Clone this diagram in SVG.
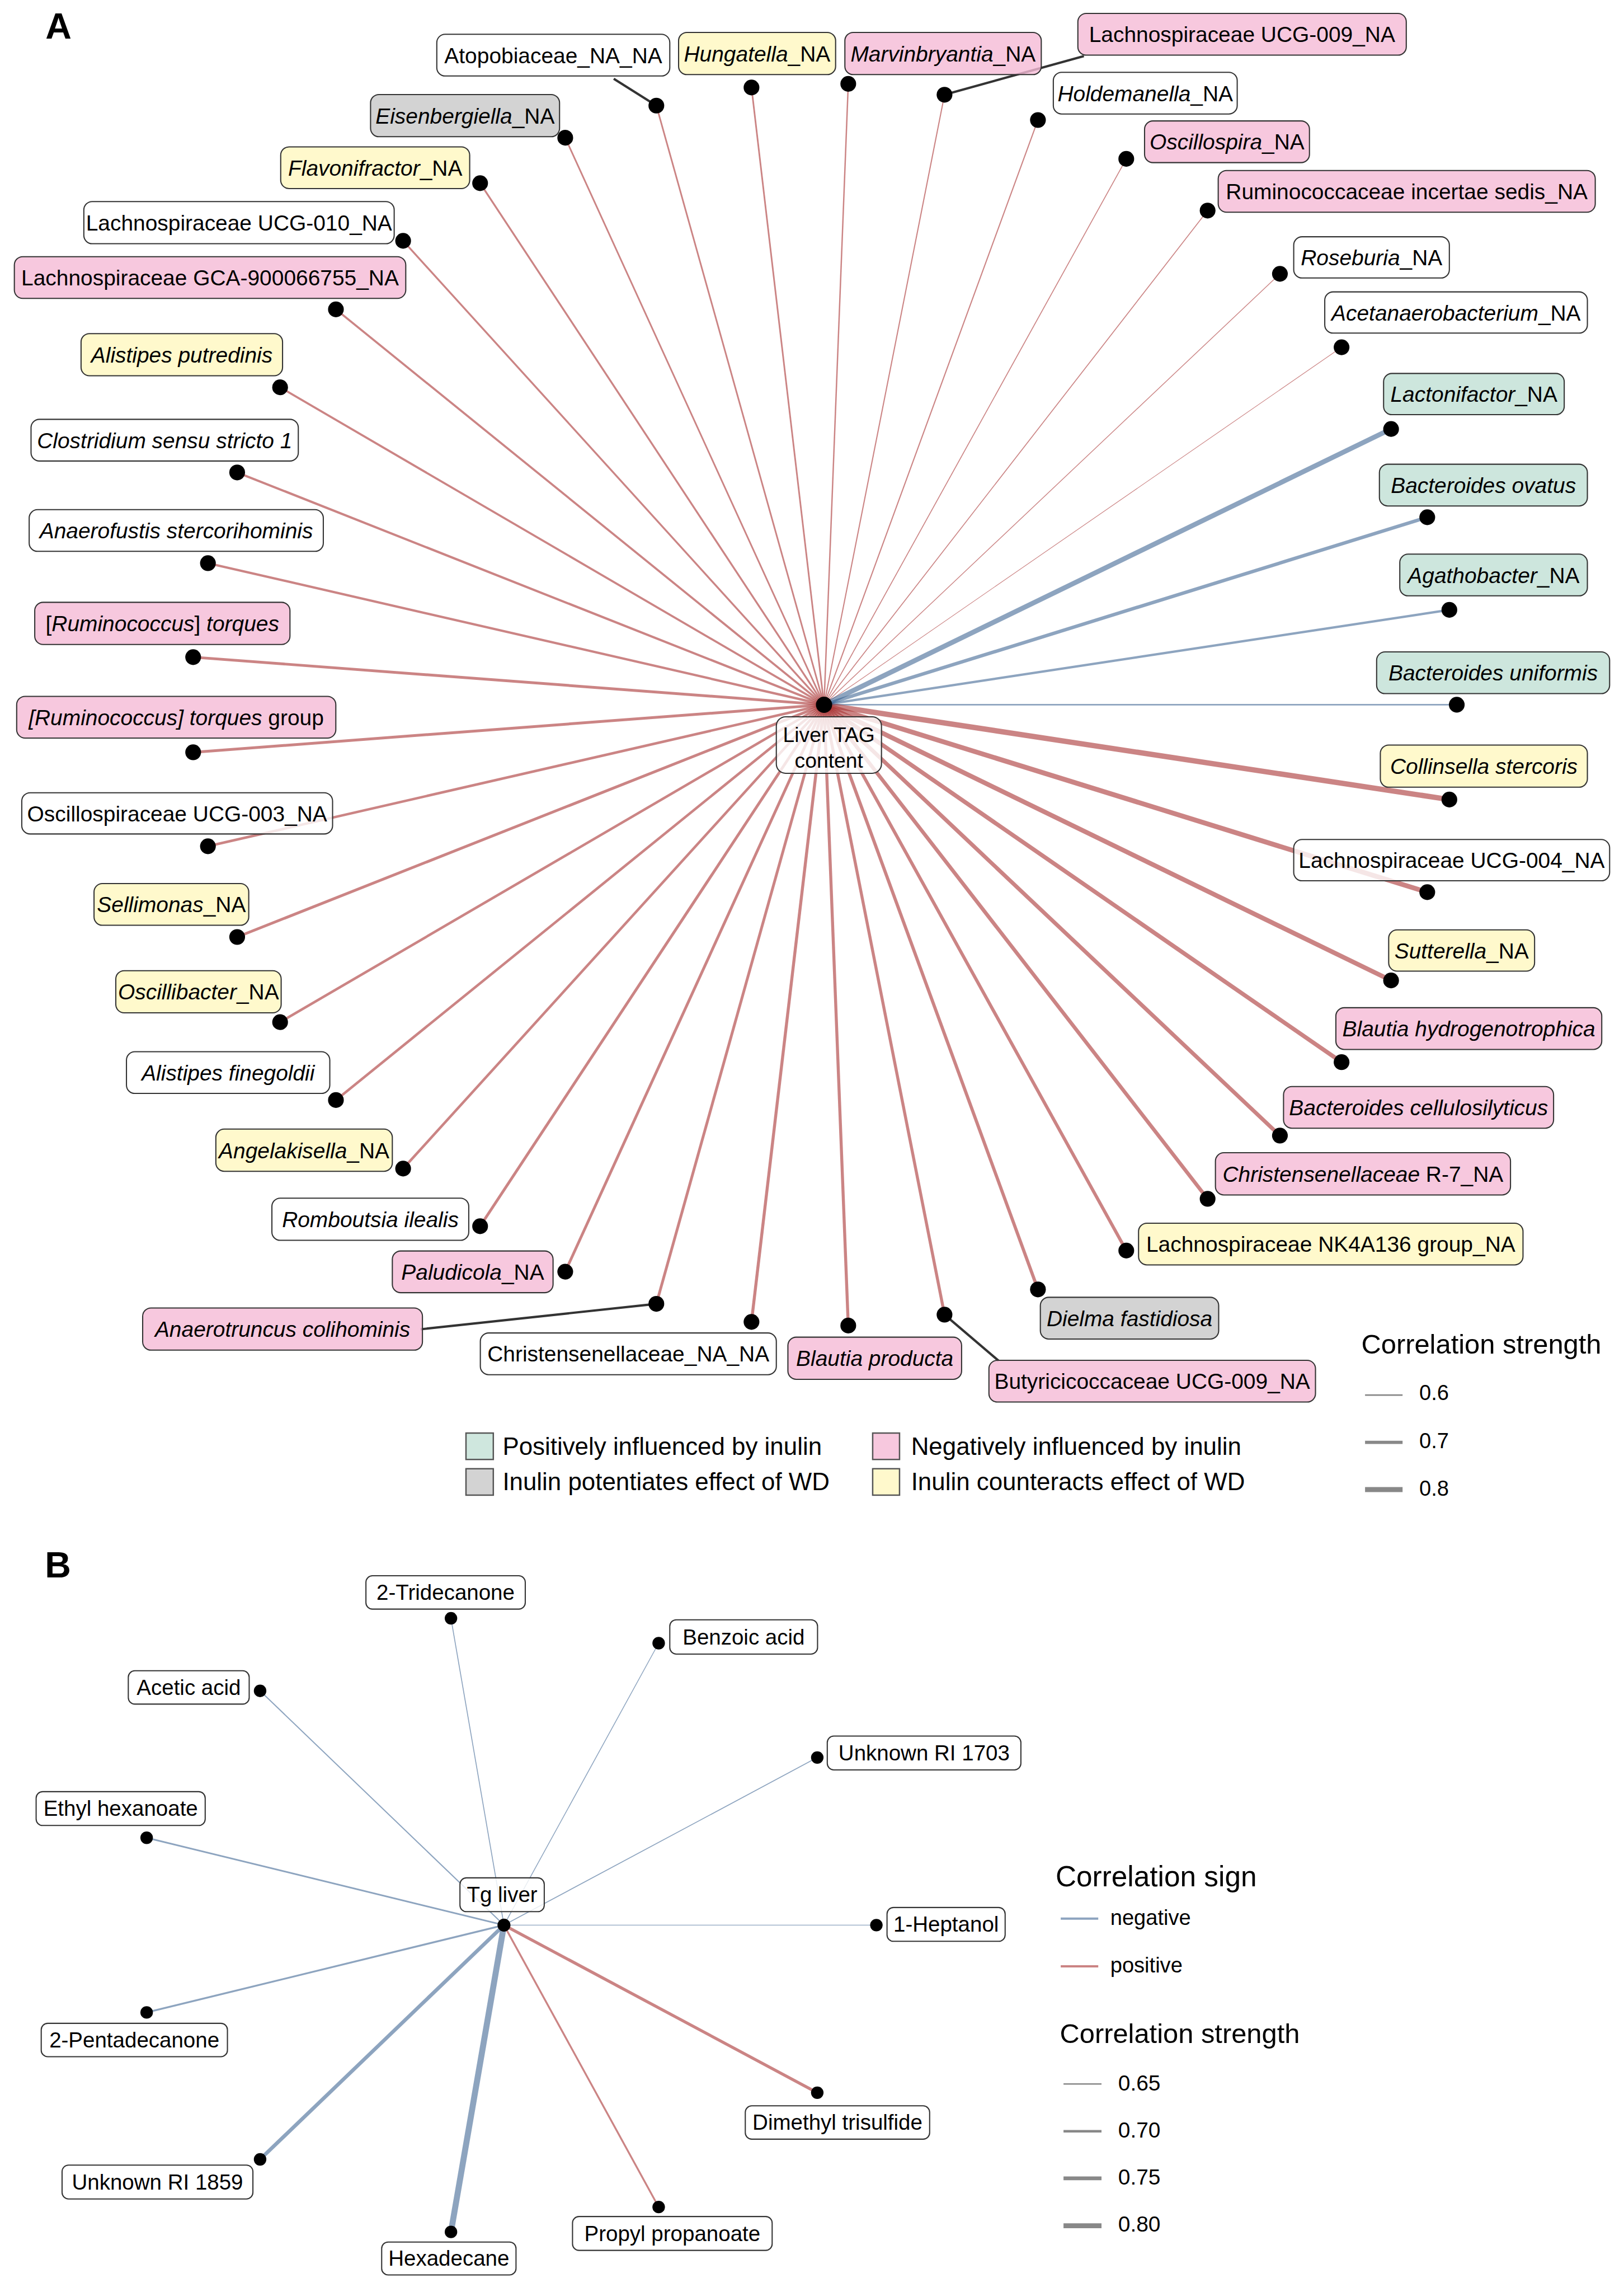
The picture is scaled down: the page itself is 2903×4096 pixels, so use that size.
<svg xmlns="http://www.w3.org/2000/svg" width="2903" height="4096" viewBox="0 0 2903 4096">
<style>
text{font-family:"Liberation Sans",Arial,Helvetica,sans-serif;fill:#000}
.t{font-size:47px;text-anchor:middle}
.tb{font-size:46.5px;text-anchor:middle}
.i{font-style:italic}
.bx{stroke:#333;stroke-width:2.5;fill-opacity:.8}
.W{fill:#fff}.P{fill:#F5BAD6}.Y{fill:#FFF7BF}.G{fill:#C0E0D4}.R{fill:#C8C8C8}
.pos{stroke:#A83232;stroke-opacity:.6;fill:none}
.neg{stroke:#2F5A8A;stroke-opacity:.55;fill:none}
.ld{stroke:#333;stroke-width:5}
.lg{stroke:#888}
.sq{stroke:#555;stroke-width:3}
.leg{font-size:53px}
.ttl{font-size:59px}
.num{font-size:46px}
.pl{font-size:78px;font-weight:bold}
</style>
<rect width="2903" height="4096" fill="#fff"/>
<g transform="scale(0.828)">
<text class="pl" x="98" y="83">A</text>
<text class="pl" x="97" y="3405">B</text>

<g id="edges-A">
<line class="neg" x1="1779" y1="1521" x2="3145" y2="1521" stroke-width="3.5"/>
<line class="pos" x1="1779" y1="1521" x2="3129.0" y2="1725.7" stroke-width="11.5"/>
<line class="pos" x1="1779" y1="1521" x2="3081.3" y2="1925.6" stroke-width="10.5"/>
<line class="pos" x1="1779" y1="1521" x2="3003.2" y2="2116.1" stroke-width="10"/>
<line class="pos" x1="1779" y1="1521" x2="2896.3" y2="2292.5" stroke-width="9"/>
<line class="pos" x1="1779" y1="1521" x2="2763.2" y2="2451.0" stroke-width="8.5"/>
<line class="pos" x1="1779" y1="1521" x2="2607.1" y2="2587.5" stroke-width="8"/>
<line class="pos" x1="1779" y1="1521" x2="2431.5" y2="2699.1" stroke-width="7"/>
<line class="pos" x1="1779" y1="1521" x2="2240.8" y2="2783.0" stroke-width="7"/>
<line class="pos" x1="1779" y1="1521" x2="2039.1" y2="2837.5" stroke-width="6.5"/>
<line class="pos" x1="1779" y1="1521" x2="1831.3" y2="2861.0" stroke-width="6.5"/>
<line class="pos" x1="1779" y1="1521" x2="1622.4" y2="2853.1" stroke-width="6.5"/>
<line class="pos" x1="1779" y1="1521" x2="1417.0" y2="2814.1" stroke-width="6"/>
<line class="pos" x1="1779" y1="1521" x2="1220.3" y2="2744.7" stroke-width="6"/>
<line class="pos" x1="1779" y1="1521" x2="1036.5" y2="2646.6" stroke-width="6"/>
<line class="pos" x1="1779" y1="1521" x2="870.3" y2="2522.2" stroke-width="5.5"/>
<line class="pos" x1="1779" y1="1521" x2="725.2" y2="2374.3" stroke-width="5.5"/>
<line class="pos" x1="1779" y1="1521" x2="604.7" y2="2206.1" stroke-width="5.5"/>
<line class="pos" x1="1779" y1="1521" x2="512.0" y2="2022.3" stroke-width="6"/>
<line class="pos" x1="1779" y1="1521" x2="448.9" y2="1826.5" stroke-width="5.5"/>
<line class="pos" x1="1779" y1="1521" x2="417.0" y2="1623.7" stroke-width="6"/>
<line class="pos" x1="1779" y1="1521" x2="417.0" y2="1418.3" stroke-width="6"/>
<line class="pos" x1="1779" y1="1521" x2="448.9" y2="1215.5" stroke-width="5"/>
<line class="pos" x1="1779" y1="1521" x2="512.0" y2="1019.7" stroke-width="5"/>
<line class="pos" x1="1779" y1="1521" x2="604.7" y2="835.9" stroke-width="4.5"/>
<line class="pos" x1="1779" y1="1521" x2="725.2" y2="667.7" stroke-width="4.5"/>
<line class="pos" x1="1779" y1="1521" x2="870.3" y2="519.8" stroke-width="4"/>
<line class="pos" x1="1779" y1="1521" x2="1036.5" y2="395.4" stroke-width="4"/>
<line class="pos" x1="1779" y1="1521" x2="1220.3" y2="297.3" stroke-width="3.5"/>
<line class="pos" x1="1779" y1="1521" x2="1417.0" y2="227.9" stroke-width="3.5"/>
<line class="pos" x1="1779" y1="1521" x2="1622.4" y2="188.9" stroke-width="3.5"/>
<line class="pos" x1="1779" y1="1521" x2="1831.3" y2="181.0" stroke-width="3"/>
<line class="pos" x1="1779" y1="1521" x2="2039.1" y2="204.5" stroke-width="2.5"/>
<line class="pos" x1="1779" y1="1521" x2="2240.8" y2="259.0" stroke-width="2.5"/>
<line class="pos" x1="1779" y1="1521" x2="2431.5" y2="342.9" stroke-width="2"/>
<line class="pos" x1="1779" y1="1521" x2="2607.1" y2="454.5" stroke-width="2"/>
<line class="pos" x1="1779" y1="1521" x2="2763.2" y2="591.0" stroke-width="1.7"/>
<line class="pos" x1="1779" y1="1521" x2="2896.3" y2="749.5" stroke-width="1.4"/>
<line class="neg" x1="1779" y1="1521" x2="3003.2" y2="925.9" stroke-width="10.5"/>
<line class="neg" x1="1779" y1="1521" x2="3081.3" y2="1116.4" stroke-width="7.5"/>
<line class="neg" x1="1779" y1="1521" x2="3129.0" y2="1316.3" stroke-width="5"/>
</g>

<g id="leaders-A">
<line class="ld" x1="1325" y1="170" x2="1417" y2="227.9"/>
<line class="ld" x1="2039.1" y1="204.5" x2="2340" y2="121"/>
<line class="ld" x1="2039.1" y1="2837.5" x2="2156" y2="2937"/>
<line class="ld" x1="908" y1="2869" x2="1417" y2="2814.1"/>
</g>

<g id="n-liver-tag"><circle cx="1779" cy="1521" r="17.5"/><rect class="bx W" x="1676" y="1547" width="227" height="122" rx="20"/><text class="t" style="font-size:45px" x="1789.5" y="1601">Liver TAG</text><text class="t" style="font-size:45px" x="1789.5" y="1657">content</text></g>

<g id="n-atopobiaceae"><circle cx="1417" cy="227.9" r="17"/><rect class="bx W" x="943" y="74" width="503" height="90" rx="18"/><text class="t" x="1194.5" y="136">Atopobiaceae_NA_NA</text></g>
<g id="n-hungatella"><circle cx="1622.4" cy="188.9" r="17"/><rect class="bx Y" x="1465" y="70" width="339" height="91" rx="18"/><text class="t" x="1634.5" y="132.5"><tspan class="i">Hungatella</tspan>_NA</text></g>
<g id="n-marvinbryantia"><circle cx="1831.3" cy="181" r="17"/><rect class="bx P" x="1824" y="70" width="424" height="91" rx="18"/><text class="t" x="2036" y="132.5"><tspan class="i">Marvinbryantia</tspan>_NA</text></g>
<g id="n-lachno-ucg009"><circle cx="2039.1" cy="204.5" r="17"/><rect class="bx P" x="2327" y="29" width="709" height="90" rx="18"/><text class="t" x="2681.5" y="91">Lachnospiraceae UCG-009_NA</text></g>
<g id="n-holdemanella"><circle cx="2240.8" cy="259" r="17"/><rect class="bx W" x="2274" y="156" width="397" height="90" rx="18"/><text class="t" x="2472.5" y="218"><tspan class="i">Holdemanella</tspan>_NA</text></g>
<g id="n-oscillospira"><circle cx="2431.5" cy="342.9" r="17"/><rect class="bx P" x="2471" y="261" width="356" height="90" rx="18"/><text class="t" x="2649" y="323"><tspan class="i">Oscillospira</tspan>_NA</text></g>
<g id="n-rumino-incertae"><circle cx="2607.1" cy="454.5" r="17"/><rect class="bx P" x="2630" y="368" width="814" height="90" rx="18"/><text class="t" x="3037" y="430">Ruminococcaceae incertae sedis_NA</text></g>
<g id="n-roseburia"><circle cx="2763.2" cy="591" r="17"/><rect class="bx W" x="2793" y="511" width="336" height="89" rx="18"/><text class="t" x="2961" y="572.5"><tspan class="i">Roseburia</tspan>_NA</text></g>
<g id="n-acetanaerobacterium"><circle cx="2896.3" cy="749.5" r="17"/><rect class="bx W" x="2860" y="630" width="567" height="89" rx="18"/><text class="t" x="3143.5" y="691.5"><tspan class="i">Acetanaerobacterium</tspan>_NA</text></g>
<g id="n-lactonifactor"><circle cx="3003.2" cy="925.9" r="17"/><rect class="bx G" x="2987" y="806" width="390" height="89" rx="18"/><text class="t" x="3182" y="867.5"><tspan class="i">Lactonifactor</tspan>_NA</text></g>
<g id="n-bacteroides-ovatus"><circle cx="3081.3" cy="1116.4" r="17"/><rect class="bx G" x="2978" y="1002" width="449" height="90" rx="18"/><text class="t i" x="3202.5" y="1064">Bacteroides ovatus</text></g>
<g id="n-agathobacter"><circle cx="3129" cy="1316.3" r="17"/><rect class="bx G" x="3022" y="1196" width="405" height="90" rx="18"/><text class="t" x="3224.5" y="1258"><tspan class="i">Agathobacter</tspan>_NA</text></g>
<g id="n-bacteroides-uniformis"><circle cx="3145" cy="1521" r="17"/><rect class="bx G" x="2972" y="1407" width="503" height="90" rx="18"/><text class="t i" x="3223.5" y="1469">Bacteroides uniformis</text></g>
<g id="n-collinsella"><circle cx="3129" cy="1725.7" r="17"/><rect class="bx Y" x="2980" y="1608" width="447" height="91" rx="18"/><text class="t i" x="3203.5" y="1670.5">Collinsella stercoris</text></g>
<g id="n-lachno-ucg004"><circle cx="3081.3" cy="1925.6" r="17"/><rect class="bx W" x="2793" y="1812" width="682" height="89" rx="18"/><text class="t" x="3134" y="1873.5">Lachnospiraceae UCG-004_NA</text></g>
<g id="n-sutterella"><circle cx="3003.2" cy="2116.1" r="17"/><rect class="bx Y" x="2998" y="2007" width="315" height="89" rx="18"/><text class="t" x="3155.5" y="2068.5"><tspan class="i">Sutterella</tspan>_NA</text></g>
<g id="n-blautia-hydro"><circle cx="2896.3" cy="2292.5" r="17"/><rect class="bx P" x="2884" y="2175" width="574" height="90" rx="18"/><text class="t i" x="3171" y="2237">Blautia hydrogenotrophica</text></g>
<g id="n-bacteroides-cellulo"><circle cx="2763.2" cy="2451" r="17"/><rect class="bx P" x="2771" y="2345" width="583" height="90" rx="18"/><text class="t i" x="3062.5" y="2407">Bacteroides cellulosilyticus</text></g>
<g id="n-christensenellaceae-r7"><circle cx="2607.1" cy="2587.5" r="17"/><rect class="bx P" x="2624" y="2488" width="637" height="91" rx="18"/><text class="t" x="2942.5" y="2550.5"><tspan class="i">Christensenellaceae</tspan> R-7_NA</text></g>
<g id="n-lachno-nk4a136"><circle cx="2431.5" cy="2699.1" r="17"/><rect class="bx Y" x="2458" y="2640" width="830" height="90" rx="18"/><text class="t" x="2873" y="2702">Lachnospiraceae NK4A136 group_NA</text></g>
<g id="n-dielma"><circle cx="2240.8" cy="2783" r="17"/><rect class="bx R" x="2246" y="2800" width="385" height="90" rx="18"/><text class="t i" x="2438.5" y="2862">Dielma fastidiosa</text></g>
<g id="n-butyricicoccaceae"><circle cx="2039.1" cy="2837.5" r="17"/><rect class="bx P" x="2135" y="2936" width="705" height="90" rx="18"/><text class="t" x="2487.5" y="2998">Butyricicoccaceae UCG-009_NA</text></g>
<g id="n-blautia-producta"><circle cx="1831.3" cy="2861" r="17"/><rect class="bx P" x="1701" y="2886" width="375" height="91" rx="18"/><text class="t i" x="1888.5" y="2948.5">Blautia producta</text></g>
<g id="n-christensenellaceae-na"><circle cx="1622.4" cy="2853.1" r="17"/><rect class="bx W" x="1037" y="2877" width="639" height="90" rx="18"/><text class="t" x="1356.5" y="2939">Christensenellaceae_NA_NA</text></g>
<g id="n-anaerotruncus"><circle cx="1417" cy="2814.1" r="17"/><rect class="bx P" x="308" y="2823" width="604" height="91" rx="18"/><text class="t i" x="610" y="2885.5">Anaerotruncus colihominis</text></g>
<g id="n-paludicola"><circle cx="1220.3" cy="2744.7" r="17"/><rect class="bx P" x="847" y="2700" width="347" height="90" rx="18"/><text class="t" x="1020.5" y="2762"><tspan class="i">Paludicola</tspan>_NA</text></g>
<g id="n-romboutsia"><circle cx="1036.5" cy="2646.6" r="17"/><rect class="bx W" x="587" y="2586" width="425" height="91" rx="18"/><text class="t i" x="799.5" y="2648.5">Romboutsia ilealis</text></g>
<g id="n-angelakisella"><circle cx="870.3" cy="2522.2" r="17"/><rect class="bx Y" x="466" y="2437" width="381" height="91" rx="18"/><text class="t" x="656.5" y="2499.5"><tspan class="i">Angelakisella</tspan>_NA</text></g>
<g id="n-alistipes-finegoldii"><circle cx="725.2" cy="2374.3" r="17"/><rect class="bx W" x="273" y="2270" width="439" height="90" rx="18"/><text class="t i" x="492.5" y="2332">Alistipes finegoldii</text></g>
<g id="n-oscillibacter"><circle cx="604.7" cy="2206.1" r="17"/><rect class="bx Y" x="250" y="2095" width="357" height="91" rx="18"/><text class="t" x="428.5" y="2157.5"><tspan class="i">Oscillibacter</tspan>_NA</text></g>
<g id="n-sellimonas"><circle cx="512" cy="2022.3" r="17"/><rect class="bx Y" x="203" y="1907" width="334" height="90" rx="18"/><text class="t" x="370" y="1969"><tspan class="i">Sellimonas</tspan>_NA</text></g>
<g id="n-oscillospiraceae-ucg003"><circle cx="448.9" cy="1826.5" r="17"/><rect class="bx W" x="47" y="1711" width="671" height="89" rx="18"/><text class="t" x="382.5" y="1772.5">Oscillospiraceae UCG-003_NA</text></g>
<g id="n-torques-group"><circle cx="417" cy="1623.7" r="17"/><rect class="bx P" x="36" y="1503" width="689" height="90" rx="18"/><text class="t" x="380.5" y="1565"><tspan class="i">[Ruminococcus] torques</tspan> group</text></g>
<g id="n-torques"><circle cx="417" cy="1418.3" r="17"/><rect class="bx P" x="75" y="1300" width="551" height="91" rx="18"/><text class="t" x="350.5" y="1362.5">[<tspan class="i">Ruminococcus</tspan>] <tspan class="i">torques</tspan></text></g>
<g id="n-anaerofustis"><circle cx="448.9" cy="1215.5" r="17"/><rect class="bx W" x="63" y="1100" width="635" height="90" rx="18"/><text class="t i" x="380.5" y="1162">Anaerofustis stercorihominis</text></g>
<g id="n-clostridium"><circle cx="512" cy="1019.7" r="17"/><rect class="bx W" x="67" y="905" width="577" height="90" rx="18"/><text class="t i" x="355.5" y="967">Clostridium sensu stricto 1</text></g>
<g id="n-alistipes-putredinis"><circle cx="604.7" cy="835.9" r="17"/><rect class="bx Y" x="175" y="720" width="435" height="91" rx="18"/><text class="t i" x="392.5" y="782.5">Alistipes putredinis</text></g>
<g id="n-lachno-gca"><circle cx="725.2" cy="667.7" r="17"/><rect class="bx P" x="31" y="554" width="845" height="90" rx="18"/><text class="t" x="453.5" y="616">Lachnospiraceae GCA-900066755_NA</text></g>
<g id="n-lachno-ucg010"><circle cx="870.3" cy="519.8" r="17"/><rect class="bx W" x="181" y="435" width="670" height="91" rx="18"/><text class="t" x="516" y="497.5">Lachnospiraceae UCG-010_NA</text></g>
<g id="n-flavonifractor"><circle cx="1036.5" cy="395.4" r="17"/><rect class="bx Y" x="606" y="317" width="408" height="90" rx="18"/><text class="t" x="810" y="379"><tspan class="i">Flavonifractor</tspan>_NA</text></g>
<g id="n-eisenbergiella"><circle cx="1220.3" cy="297.3" r="17"/><rect class="bx R" x="800" y="204" width="408" height="91" rx="18"/><text class="t" x="1004" y="266.5"><tspan class="i">Eisenbergiella</tspan>_NA</text></g>

<g id="legend-A-fill">
<rect class="sq" x="1006" y="3093" width="59" height="57" fill="#CFE7DE"/>
<rect class="sq" x="1006" y="3170" width="59" height="57" fill="#D3D3D3"/>
<rect class="sq" x="1884" y="3093" width="58" height="57" fill="#F7C8DE"/>
<rect class="sq" x="1884" y="3170" width="58" height="57" fill="#FFF9CC"/>
<text class="leg" x="1085" y="3140">Positively influenced by inulin</text>
<text class="leg" x="1085" y="3216">Inulin potentiates effect of WD</text>
<text class="leg" x="1967" y="3140">Negatively influenced by inulin</text>
<text class="leg" x="1967" y="3216">Inulin counteracts effect of WD</text>
</g>
<g id="legend-A-strength">
<text class="ttl" x="2939" y="2922">Correlation strength</text>
<line class="lg" x1="2947" y1="3011" x2="3028" y2="3011" stroke-width="3.5"/>
<line class="lg" x1="2947" y1="3113" x2="3028" y2="3113" stroke-width="7"/>
<line class="lg" x1="2947" y1="3215" x2="3028" y2="3215" stroke-width="11"/>
<text class="num" x="3064" y="3022">0.6</text>
<text class="num" x="3064" y="3125">0.7</text>
<text class="num" x="3064" y="3228">0.8</text>
</g>

<g id="edges-B">
<line class="neg" x1="1088" y1="4155" x2="1892" y2="4155" stroke-width="1.5"/>
<line class="pos" x1="1088" y1="4155" x2="1764.4" y2="4516.7" stroke-width="6.5"/>
<line class="pos" x1="1088" y1="4155" x2="1422" y2="4763.5" stroke-width="4"/>
<line class="neg" x1="1088" y1="4155" x2="973.6" y2="4817.2" stroke-width="13"/>
<line class="neg" x1="1088" y1="4155" x2="561.5" y2="4660.6" stroke-width="8"/>
<line class="neg" x1="1088" y1="4155" x2="316.6" y2="4343.5" stroke-width="4"/>
<line class="neg" x1="1088" y1="4155" x2="316.6" y2="3966.5" stroke-width="3.5"/>
<line class="neg" x1="1088" y1="4155" x2="561.5" y2="3649.4" stroke-width="2.5"/>
<line class="neg" x1="1088" y1="4155" x2="973.6" y2="3492.8" stroke-width="2"/>
<line class="neg" x1="1088" y1="4155" x2="1422" y2="3546.5" stroke-width="1.8"/>
<line class="neg" x1="1088" y1="4155" x2="1764.4" y2="3793.3" stroke-width="2"/>
</g>

<g id="n-tg-liver"><circle cx="1088" cy="4155" r="14"/><rect class="bx W" x="993" y="4053" width="182" height="73" rx="14"/><text class="tb" x="1084" y="4105.5">Tg liver</text></g>
<g id="n-1-heptanol"><circle cx="1892" cy="4155" r="13.5"/><rect class="bx W" x="1915" y="4117" width="255" height="73" rx="14"/><text class="tb" x="2042.5" y="4169.5">1-Heptanol</text></g>
<g id="n-dimethyl-trisulfide"><circle cx="1764.4" cy="4516.7" r="13.5"/><rect class="bx W" x="1609" y="4545" width="398" height="72" rx="14"/><text class="tb" x="1808" y="4597">Dimethyl trisulfide</text></g>
<g id="n-propyl-propanoate"><circle cx="1422" cy="4763.5" r="13.5"/><rect class="bx W" x="1236" y="4784" width="431" height="73" rx="14"/><text class="tb" x="1451.5" y="4836.5">Propyl propanoate</text></g>
<g id="n-hexadecane"><circle cx="973.6" cy="4817.2" r="13.5"/><rect class="bx W" x="824" y="4839" width="290" height="71" rx="14"/><text class="tb" x="969" y="4890.5">Hexadecane</text></g>
<g id="n-unknown-1859"><circle cx="561.5" cy="4660.6" r="13.5"/><rect class="bx W" x="134" y="4673" width="412" height="73" rx="14"/><text class="tb" x="340" y="4725.5">Unknown RI 1859</text></g>
<g id="n-2-pentadecanone"><circle cx="316.6" cy="4343.5" r="13.5"/><rect class="bx W" x="89" y="4367" width="402" height="72" rx="14"/><text class="tb" x="290" y="4419">2-Pentadecanone</text></g>
<g id="n-ethyl-hexanoate"><circle cx="316.6" cy="3966.5" r="13.5"/><rect class="bx W" x="78" y="3867" width="365" height="73" rx="14"/><text class="tb" x="260.5" y="3919.5">Ethyl hexanoate</text></g>
<g id="n-acetic-acid"><circle cx="561.5" cy="3649.4" r="13.5"/><rect class="bx W" x="277" y="3606" width="261" height="72" rx="14"/><text class="tb" x="407.5" y="3658">Acetic acid</text></g>
<g id="n-2-tridecanone"><circle cx="973.6" cy="3492.8" r="13.5"/><rect class="bx W" x="790" y="3401" width="344" height="72" rx="14"/><text class="tb" x="962" y="3453">2-Tridecanone</text></g>
<g id="n-benzoic-acid"><circle cx="1422" cy="3546.5" r="13.5"/><rect class="bx W" x="1446" y="3496" width="319" height="74" rx="14"/><text class="tb" x="1605.5" y="3549">Benzoic acid</text></g>
<g id="n-unknown-1703"><circle cx="1764.4" cy="3793.3" r="13.5"/><rect class="bx W" x="1786" y="3747" width="418" height="73" rx="14"/><text class="tb" x="1995" y="3799.5">Unknown RI 1703</text></g>

<g id="legend-B-sign">
<text style="font-size:62px" x="2279" y="4071">Correlation sign</text>
<line class="neg" x1="2290" y1="4141" x2="2371" y2="4141" stroke-width="5"/>
<line class="pos" x1="2290" y1="4244" x2="2371" y2="4244" stroke-width="5"/>
<text class="num" x="2397" y="4155">negative</text>
<text class="num" x="2397" y="4257">positive</text>
</g>
<g id="legend-B-strength">
<text class="ttl" x="2288" y="4409">Correlation strength</text>
<line class="lg" x1="2296" y1="4498" x2="2378" y2="4498" stroke-width="3"/>
<line class="lg" x1="2296" y1="4600" x2="2378" y2="4600" stroke-width="5.5"/>
<line class="lg" x1="2296" y1="4701.5" x2="2378" y2="4701.5" stroke-width="8"/>
<line class="lg" x1="2296" y1="4804" x2="2378" y2="4804" stroke-width="10.5"/>
<text style="font-size:47px" x="2414" y="4512">0.65</text>
<text style="font-size:47px" x="2414" y="4613">0.70</text>
<text style="font-size:47px" x="2414" y="4715">0.75</text>
<text style="font-size:47px" x="2414" y="4817">0.80</text>
</g>
</g>
</svg>
